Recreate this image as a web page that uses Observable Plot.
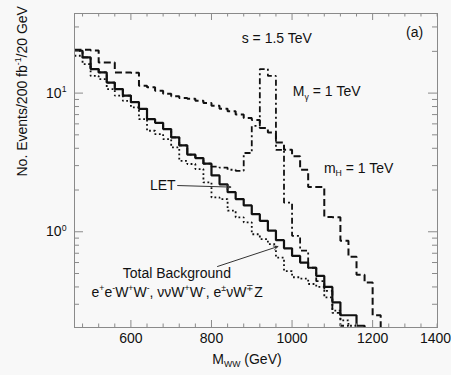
<!DOCTYPE html>
<html>
<head>
<meta charset="utf-8">
<script src="https://cdn.jsdelivr.net/npm/d3@7"></script>
<script src="https://cdn.jsdelivr.net/npm/@observablehq/plot@0.6"></script>
<style>
  html, body { margin: 0; padding: 0; background: #f8f8f8; }
  #chart { width: 451px; height: 375px; overflow: hidden; }
</style>
</head>
<body>
<div id="chart"></div>
<script>
// ---- data (20 GeV bins; each value belongs to the bin starting at massEdges[i]) ----
const massEdges = [460,480,500,520,540,560,580,600,620,640,660,680,700,720,740,760,780,800,820,840,
                   860,880,900,920,940,960,980,1000,1020,1040,1060,1080,1100,1120,1140,1160,1180,1200,1220,1240,1260];

// LET (solid)
const letEvents = [20.2,18.1,14.9,14.1,11.9,10.7,9.6,8.6,7.7,6.5,6.1,5.5,4.8,4.2,3.6,3.4,3.1,2.55,2.2,1.93,
                   1.72,1.55,1.34,1.2,1.02,0.87,0.76,0.67,0.6,0.55,0.48,0.40,0.31,0.25,0.25,0.21,0.1,null,null,null];
// Total background (dotted)
const bkgEvents = [18.6,16.2,13.3,12.6,10.7,9.6,8.8,7.9,6.5,5.35,5.06,4.66,4.06,3.25,3.08,2.83,2.27,1.77,1.72,1.42,
                   1.27,1.17,0.96,0.885,0.815,0.65,0.52,0.47,0.46,0.42,0.40,0.336,0.27,0.23,0.21,0.1,null,null,null,null];
// Scalar, m_H = 1 TeV (dashed)
const higgsEvents = [20.5,20.5,20.3,16.6,16.6,14.1,14.1,14.0,11.3,11.0,10.4,9.9,9.5,9.2,9.1,8.8,8.5,8.1,7.7,7.4,
                     7.0,6.6,6.4,5.6,5.2,4.4,3.9,3.5,2.8,2.1,2.1,1.28,1.27,0.86,0.66,0.49,0.43,0.25,0.12,null];
// Vector, M_V = 1 TeV (dash-dot); coincides with LET below 800 GeV
const vectorEvents = [20.2,18.1,14.9,14.1,11.9,10.7,9.6,8.6,7.7,6.5,6.1,5.5,4.8,4.2,3.6,3.4,3.1,2.95,2.9,2.8,
                      2.75,3.7,5.8,14.9,13.3,3.9,1.62,0.935,0.73,0.55,0.44,0.375,0.26,0.21,0.1,null,null,null,null,null];

// ---- axes ----
const xLabelTicks = [600, 800, 1000, 1200];
const xEdgeLabelTicks = [1400];
const xMajorTicks = [600, 800, 1000, 1200];
const xMinorTicks = [480, 520, 560, 640, 680, 720, 760, 840, 880, 920, 960, 1040, 1080, 1120, 1160, 1240, 1280, 1320, 1360];
const yMajorTicks = [1, 10];
const yTickLabels = ["10^{0}", "10^{1}"];
const yMinorTicks = [0.3, 0.4, 0.5, 0.6, 0.7, 0.8, 0.9, 2, 3, 4, 5, 6, 7, 8, 9, 20, 30];

// ---- text ----
const xTitle = "M_{WW} (GeV)";
const yTitle = "No. Events/200 fb^{-1}/20 GeV";
const energyLabel = "s = 1.5 TeV";
const panelLabel = "(a)";
const vectorLabel = "M_{γ} = 1 TeV";
const higgsLabel = "m_{H} = 1 TeV";
const letLabel = "LET";
const bkgLabel = "Total Background";
const bkgProcesses = "e^{+}e^{-}W^{+}W^{-}, ννW^{+}W^{-}, e^{±}νW^{∓}Z";

function histPoints(values) {
  const pts = [];
  let last = -1;
  values.forEach((v, i) => { if (v != null) { pts.push({x: massEdges[i], y: v}); last = i; } });
  pts.push({x: massEdges[last + 1], y: values[last]});
  return pts;
}

const W = 451, H = 375;
const mL = 74, mR = 14, mT = 13, mB = 48;
const innerW = W - mL - mR, innerH = H - mT - mB;
const ink = "#111";
const axisInk = "#8a8a8a";

// The original figure's axis runs linearly to 1360 GeV at the frame edge,
// where its "1400" label is printed; mimic that by squeezing values past 1360.
const xSqueeze = g => (g <= 1360 ? g : 1360 + (g - 1360) * 0.025);

const lineBase = {x: "x", y: "y", curve: "step-after", clip: true, stroke: ink, strokeLinejoin: "miter"};

const plot = Plot.plot({
  width: W, height: H,
  marginLeft: mL, marginRight: mR, marginTop: mT, marginBottom: mB,
  style: {fontFamily: "'Liberation Sans', Arial, Helvetica, sans-serif", fontSize: "14px", background: "#f8f8f8", color: ink},
  x: {domain: [460, 1361], transform: xSqueeze},
  y: {type: "log", domain: [0.204, 37.5]},
  marks: [
    // histograms
    Plot.line(histPoints(vectorEvents), {...lineBase, strokeWidth: 1.8, strokeDasharray: "6,3,2,3", strokeLinecap: "butt"}),
    Plot.line(histPoints(higgsEvents), {...lineBase, strokeWidth: 2, strokeDasharray: "7,3.5", strokeLinecap: "butt"}),
    Plot.line(histPoints(bkgEvents), {...lineBase, strokeWidth: 1.8, strokeDasharray: "1.8,2.6", strokeLinecap: "butt"}),
    Plot.line(histPoints(letEvents), {...lineBase, strokeWidth: 2.2, strokeLinecap: "butt"}),
    // frame and inward ticks
    Plot.frame({stroke: axisInk, strokeWidth: 1}),
    Plot.tickX(xMajorTicks, {x: d => d, insetTop: innerH - 7, stroke: axisInk}),
    Plot.tickX(xMinorTicks, {x: d => d, insetTop: innerH - 3.5, stroke: axisInk}),
    Plot.tickX(xMajorTicks, {x: d => d, insetBottom: innerH - 7, stroke: axisInk}),
    Plot.tickX(xMinorTicks, {x: d => d, insetBottom: innerH - 3.5, stroke: axisInk}),
    Plot.tickY(yMajorTicks, {y: d => d, insetRight: innerW - 9, stroke: axisInk}),
    Plot.tickY(yMinorTicks, {y: d => d, insetRight: innerW - 5, stroke: axisInk}),
    Plot.tickY(yMajorTicks, {y: d => d, insetLeft: innerW - 9, stroke: axisInk}),
    Plot.tickY(yMinorTicks, {y: d => d, insetLeft: innerW - 5, stroke: axisInk}),
    Plot.axisX(xLabelTicks, {x: d => d, tickSize: 0, tickPadding: 6, label: null, tickFormat: d => String(d)}),
    Plot.axisX(xEdgeLabelTicks, {x: d => d, tickSize: 0, tickPadding: 6, label: null, dx: -2, tickFormat: d => String(d)}),
    Plot.axisY({ticks: yMajorTicks, tickSize: 0, tickPadding: 8, label: null,
                tickFormat: d => yTickLabels[yMajorTicks.indexOf(d)]}),
    // axis titles
    Plot.text([xTitle], {frameAnchor: "bottom", dx: -9, dy: 36, fontSize: 14, fill: ink}),
    Plot.text([yTitle], {frameAnchor: "left", dx: -52, dy: 6, rotate: -90, fontSize: 14, fill: ink}),
    // annotations
    Plot.text([energyLabel], {x: () => 875, y: () => 24.7, textAnchor: "start", fontSize: 14, fill: ink}),
    Plot.text([panelLabel], {x: () => 1283, y: () => 27.3, textAnchor: "start", fontSize: 14, fill: ink}),
    Plot.text([vectorLabel], {x: () => 1002, y: () => 10.26, textAnchor: "start", fontSize: 14, fill: ink}),
    Plot.text([higgsLabel], {x: () => 1079, y: () => 2.86, textAnchor: "start", fontSize: 14, fill: ink}),
    Plot.text([letLabel], {x: () => 711, y: () => 2.155, textAnchor: "end", fontSize: 14, fill: ink}),
    Plot.text([bkgLabel], {x: () => 714, y: () => 0.50, textAnchor: "middle", fontSize: 14, fill: ink}),
    Plot.text([bkgProcesses], {x: () => 715, y: () => 0.365, textAnchor: "middle", fontSize: 14, fill: ink}),
    Plot.arrow([letLabel], {x1: () => 716, y1: () => 2.155, x2: () => 848, y2: () => 2.10,
                            stroke: "#333", strokeWidth: 1, headLength: 7, headAngle: 50}),
    Plot.arrow([bkgLabel], {x1: () => 815, y1: () => 0.562, x2: () => 965, y2: () => 0.783,
                            stroke: "#333", strokeWidth: 1, headLength: 7, headAngle: 50})
  ]
});

document.getElementById("chart").appendChild(plot);

// turn ^{...} / _{...} markup into real superscript / subscript tspans
function richify(root) {
  const NS = "http://www.w3.org/2000/svg";
  root.querySelectorAll("text").forEach(t => {
    const s = t.textContent;
    if (!/[\^_]\{/.test(s)) return;
    const fs = parseFloat(getComputedStyle(t).fontSize) || 14;
    while (t.firstChild) t.removeChild(t.firstChild);
    let shift = 0;
    const add = (str, kind) => {
      const ts = document.createElementNS(NS, "tspan");
      ts.textContent = str;
      const target = kind === "^" ? -0.4 * fs : kind === "_" ? 0.25 * fs : 0;
      const dy = target - shift;
      if (dy) ts.setAttribute("dy", dy.toFixed(2));
      shift = target;
      if (kind) ts.style.fontSize = (0.62 * fs).toFixed(1) + "px";
      t.appendChild(ts);
    };
    const re = /([\^_])\{([^}]*)\}/g;
    let last = 0, m;
    while ((m = re.exec(s))) {
      if (m.index > last) add(s.slice(last, m.index), null);
      add(m[2], m[1]);
      last = re.lastIndex;
    }
    if (last < s.length) add(s.slice(last), null);
  });
}
richify(plot);
</script>
</body>
</html>
